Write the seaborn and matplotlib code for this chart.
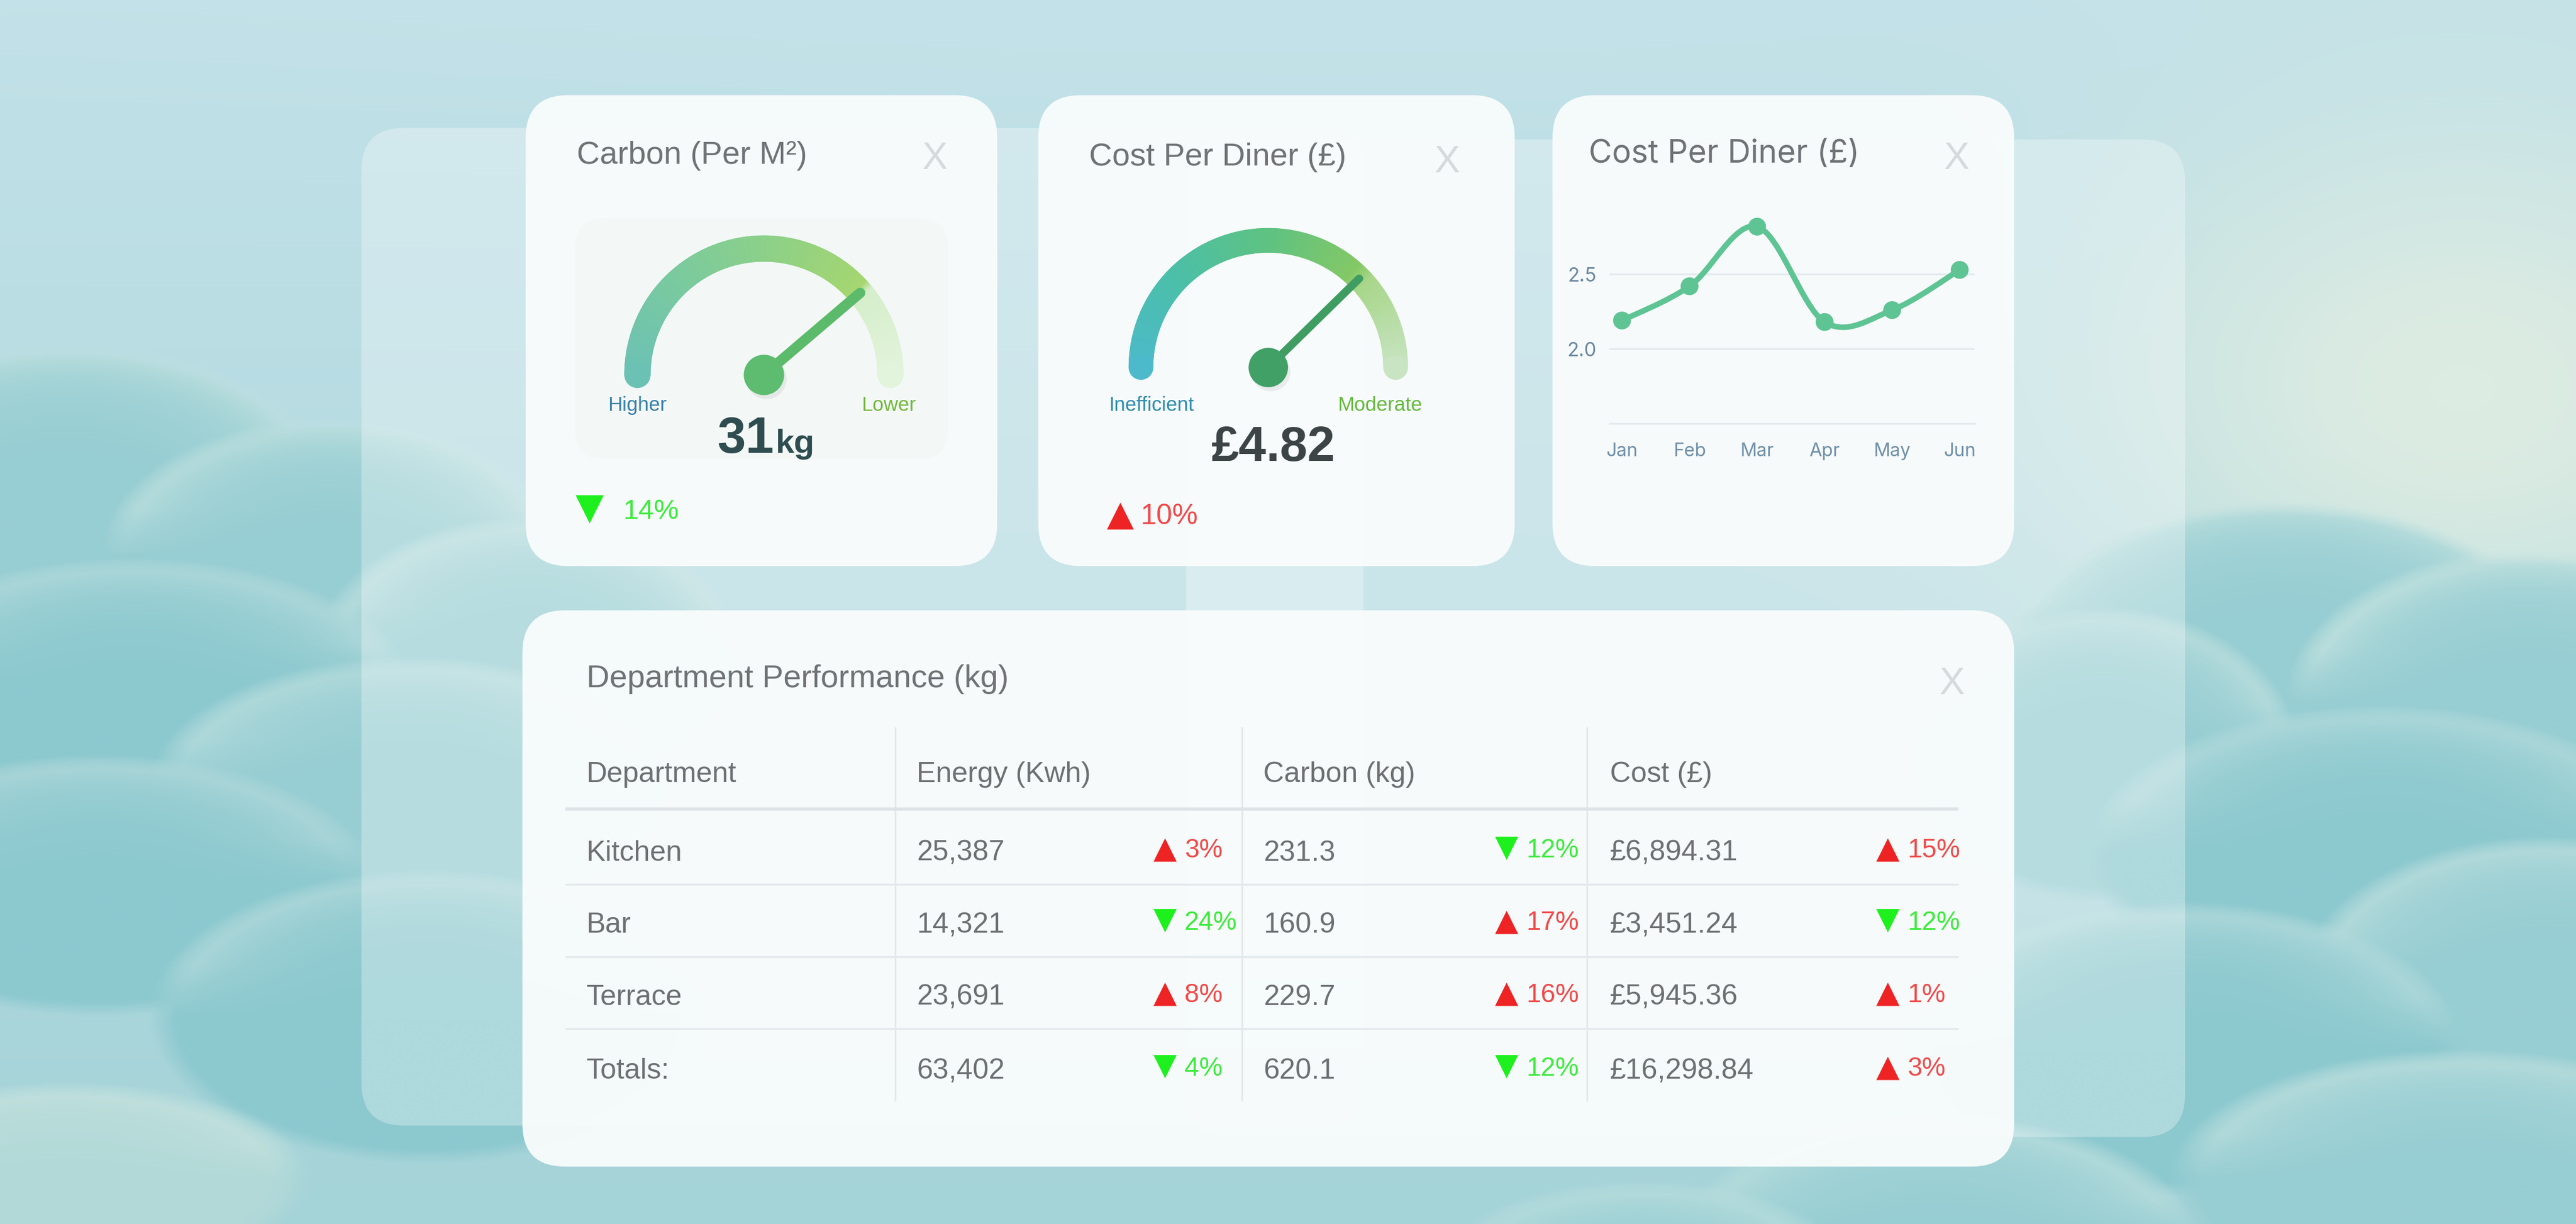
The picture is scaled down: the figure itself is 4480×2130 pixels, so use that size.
import numpy as np
import matplotlib
matplotlib.use("Agg")
import matplotlib.pyplot as plt
import seaborn as sns
from matplotlib.patches import FancyBboxPatch, Wedge, Circle, PathPatch
from matplotlib.path import Path
from matplotlib.colors import to_rgb

sns.set_theme(style="white")
plt.rcParams['font.family'] = ['Liberation Sans', 'DejaVu Sans']

# ---------------- data ----------------
carbon_value = 31
carbon_unit = "kg"
carbon_change = -14
carbon_gauge_max = 40
carbon_gauge_labels = ["Higher", "Lower"]

cost_value = 4.82
cost_change = 10
cost_gauge_max = 6.4
cost_gauge_labels = ["Inefficient", "Moderate"]

months = ["Jan", "Feb", "Mar", "Apr", "May", "Jun"]
cost_per_diner = [2.19, 2.42, 2.82, 2.18, 2.26, 2.53]
line_yticks = [2.0, 2.5]

table_columns = ["Department", "Energy (Kwh)", "Carbon (kg)", "Cost (£)"]
departments = ["Kitchen", "Bar", "Terrace", "Totals:"]
energy_kwh = [25387, 14321, 23691, 63402]
energy_change = [3, -24, 8, -4]
carbon_kg = [231.3, 160.9, 229.7, 620.1]
carbon_kg_change = [-12, 17, 16, -12]
cost_gbp = [6894.31, 3451.24, 5945.36, 16298.84]
cost_gbp_change = [15, -12, 1, 3]

# ---------------- figure ----------------
W_REF, H_REF = 1568, 746
fig = plt.figure(figsize=(44.8, 21.3), dpi=100)
ax = fig.add_axes([0, 0, 1, 1])
ax.set_xlim(0, W_REF)
ax.set_ylim(H_REF, 0)
ax.axis('off')

# ---------------- background sky with clouds ----------------
def rgb(h):
    return np.array(to_rgb(h))

gx = np.linspace(0, W_REF, 1176)
gy = np.linspace(0, H_REF, 560)
X, Y = np.meshgrid(gx, gy)
t = (Y / H_REF)[..., None]
img = rgb('#c2e1e8') * (1 - t) + rgb('#a4d3d8') * t

def glow(img, cx, cy, rx, ry, col, s):
    w = s * np.exp(-(((X - cx) / rx) ** 2 + ((Y - cy) / ry) ** 2))[..., None]
    return img * (1 - w) + rgb(col) * w

def puff(img, cx, cy, rx, ry, rim, body, rim_w=18, soft=9):
    rho = np.sqrt(((X - cx) / rx) ** 2 + ((Y - cy) / ry) ** 2)
    d = ry * (1 - rho)
    m = np.clip(d / soft, 0, 1)[..., None]
    top = np.clip((cy - Y) / (0.35 * ry), 0, 1)
    k = (np.exp(-np.clip(d, 0, None) / rim_w) * top)[..., None] * 0.85
    col = rgb(body) * (1 - k) + rgb(rim) * k
    return img * (1 - m) + col * m

img = glow(img, 1500, 240, 240, 170, '#e6f0e2', 0.8)
img = glow(img, 800, 0, 600, 80, '#c8e4ea', 0.3)

RIM, BODY, BODY2 = '#cde6e3', '#97ced3', '#8cc9cf'
puffs = [
    # left cloud bank (back to front)
    (40, 300, 160, 90, RIM, BODY),
    (200, 340, 140, 85, RIM, BODY),
    (320, 400, 130, 85, RIM, BODY),
    (80, 420, 170, 80, '#c4e2e1', BODY2),
    (250, 480, 160, 80, '#c4e2e1', BODY),
    (60, 540, 170, 80, '#c0dfdf', BODY2),
    (260, 620, 170, 90, '#c2e0e0', BODY2),
    (40, 720, 150, 60, '#cae5e0', '#b2d9d8'),
    # right cloud bank
    (1390, 400, 170, 95, RIM, BODY),
    (1540, 430, 150, 95, '#d8ebe4', BODY),
    (1280, 460, 120, 90, RIM, BODY),
    (1450, 520, 180, 90, '#c4e2e1', BODY2),
    (1550, 600, 150, 90, '#c8e3e1', BODY),
    (1330, 640, 170, 90, '#c4e2e1', BODY2),
    (1500, 720, 180, 80, '#cae4e1', BODY),
    (1180, 760, 160, 80, '#c8e4e2', BODY),
    (1000, 780, 130, 60, '#c8e4e2', BODY),
]
for p in puffs:
    img = puff(img, *p)
img = np.clip(img, 0, 1)
ax.imshow(img, extent=(0, W_REF, H_REF, 0), aspect='auto', interpolation='bicubic', zorder=0)

# ---------------- panels ----------------
def panel(x0, y0, x1, y1, fc, alpha, r=24, z=1):
    p = FancyBboxPatch((x0, y0), x1 - x0, y1 - y0,
                       boxstyle=f"round,pad=0,rounding_size={r}",
                       fc=fc, ec='none', alpha=alpha, zorder=z)
    ax.add_patch(p)

panel(220, 78, 830, 686, '#ffffff', 0.3, 26, 1)
panel(722, 85, 1330, 693, '#ffffff', 0.3, 26, 1)

cards = [(320, 58, 607, 345), (632, 58, 922, 345), (945, 58, 1226, 345), (318, 372, 1226, 711)]
for c in cards:
    panel(*c, '#f9fcfc', 0.95, 26, 2)
panel(350, 133, 577, 280, '#eef6f2', 0.35, 18, 3)

TITLE_C = '#6f7376'
X_C = '#d6dadc'
GREEN_T = '#1ef01e'
GREEN_TXT = '#3deb3d'
RED_T = '#ee2323'
RED_TXT = '#f04a4a'
DY = 2  # visual centring offset for text

def title(x, y, s, **kw):
    ax.text(x, y + DY, s, fontsize=40, color=TITLE_C, ha='left', va='center', zorder=6, **kw)

def close_x(x, y):
    ax.text(x, y + DY, "X", fontsize=48, color=X_C, ha='center', va='center', zorder=6)

title(351, 93, "Carbon (Per M²)")
title(663, 94, "Cost Per Diner (£)")
title(967, 92, "Cost Per Diner (£)", family=['Inter', 'DejaVu Sans'])
title(357, 412, "Department Performance (kg)")
for (x, y) in [(569, 95), (881, 97), (1191, 95), (1188, 415)]:
    close_x(x, y)

# ---------------- gauges ----------------
def interp_color(stops, p):
    pos = [s[0] for s in stops]
    cols = np.array([rgb(s[1]) for s in stops])
    return np.array([np.interp(p, pos, cols[:, k]) for k in range(3)])

def gauge(cx, cy, r, width, stops, frac, needle_col, needle_lw, dot_r, dot_col):
    n = 240
    for i in range(n):
        p0, p1 = i / n, (i + 1) / n
        a_hi = 180 * (1 - p0)
        a_lo = 180 * (1 - p1)
        col = interp_color(stops, (p0 + p1) / 2)
        ax.add_patch(Wedge((cx, cy), r + width / 2, -a_hi - 0.4, -a_lo + 0.4 if i < n - 1 else -a_lo,
                           width=width, fc=col, ec='none', zorder=4))
    ax.add_patch(Circle((cx - r, cy), width / 2, fc=interp_color(stops, 0), ec='none', zorder=4))
    ax.add_patch(Circle((cx + r, cy), width / 2, fc=interp_color(stops, 1), ec='none', zorder=4))
    ang = np.deg2rad(180 * (1 - frac))
    L = r
    ax.plot([cx, cx + L * np.cos(ang)], [cy, cy - L * np.sin(ang)], color=needle_col,
            lw=needle_lw, solid_capstyle='round', zorder=5)
    ax.add_patch(Circle((cx + 1.5, cy + 2.5), dot_r, fc='#000000', alpha=0.06, ec='none', zorder=5))
    ax.add_patch(Circle((cx, cy), dot_r, fc=dot_col, ec='none', zorder=5))

cf = carbon_value / carbon_gauge_max
gauge(465, 228.5, 77, 16,
      [(0, '#6cc1b5'), (0.3, '#7ccb9c'), (0.55, '#90d184'), (cf - 0.01, '#a5d670'),
       (cf + 0.01, '#d5eecb'), (1, '#e3f4dc')],
      cf, '#5cba6b', 13, 12.3, '#5dbc6f')

kf = cost_value / cost_gauge_max
gauge(772, 224, 77.5, 15,
      [(0, '#4cbacb'), (0.25, '#4bbfa8'), (0.5, '#5ec282'), (kf - 0.02, '#84c866'),
       (kf + 0.02, '#a8d68a'), (1, '#c8e4c2')],
      kf, '#3f9d62', 10, 12, '#40a066')

ax.text(388, 245 + DY, carbon_gauge_labels[0], fontsize=25, color='#3a80a6', ha='center', va='center', zorder=6)
ax.text(541, 245 + DY, carbon_gauge_labels[1], fontsize=25, color='#74b83c', ha='center', va='center', zorder=6)
ax.text(701, 245 + DY, cost_gauge_labels[0], fontsize=25, color='#2e8cae', ha='center', va='center', zorder=6)
ax.text(840, 245 + DY, cost_gauge_labels[1], fontsize=25, color='#66b83e', ha='center', va='center', zorder=6)

ax.text(471, 276, f"{carbon_value}", fontsize=64, fontweight='bold', color='#2f4d50',
        ha='right', va='baseline', zorder=6)
ax.text(472, 276, carbon_unit, fontsize=42, fontweight='bold', color='#2f4d50',
        ha='left', va='baseline', zorder=6)
ax.text(775, 281, f"£{cost_value:.2f}", fontsize=62, fontweight='bold', color='#3c4446',
        ha='center', va='baseline', zorder=6)

def change(x_tri, x_txt, y, v, tri_size, txt_size):
    up = v > 0
    ax.text(x_tri, y + (1 if up else 0), "▲" if up else "▼", fontsize=tri_size,
            color=RED_T if up else GREEN_T,
            ha='center', va='center', family=['DejaVu Sans'], zorder=6)
    ax.text(x_txt, y + DY, f"{abs(v)}%", fontsize=txt_size, color=RED_TXT if up else GREEN_TXT,
            ha='left', va='center', zorder=6)

change(359, 379, 310, carbon_change, 46, 35)
change(682, 694, 313, cost_change, 44, 36)

# ---------------- line chart ----------------
x0, x1, ytop, ybot = 979.5, 1201.9, 121.8, 258.0
lax = fig.add_axes([x0 / W_REF, 1 - ybot / H_REF, (x1 - x0) / W_REF, (ybot - ytop) / H_REF])
lax.set_facecolor('none')
xs = np.arange(len(months))
LINE_C = '#5ec493'
sns.scatterplot(x=xs, y=cost_per_diner, ax=lax, s=500, color=LINE_C, edgecolor='none', zorder=4)

# smooth curve (Catmull-Rom via cubic Bezier segments) through the data points
pts = np.column_stack([xs, cost_per_diner]).astype(float)
ext = np.vstack([pts[0], pts, pts[-1]])
verts = [tuple(pts[0])]
codes = [Path.MOVETO]
for i in range(1, len(ext) - 2):
    p0, p1, p2, p3 = ext[i - 1], ext[i], ext[i + 1], ext[i + 2]
    c1 = p1 + (p2 - p0) / 6
    c2 = p2 - (p3 - p1) / 6
    verts += [tuple(c1), tuple(c2), tuple(p2)]
    codes += [Path.CURVE4] * 3
lax.add_patch(PathPatch(Path(verts, codes), fc='none', ec=LINE_C, lw=7, zorder=3,
                        capstyle='round', joinstyle='round'))

lax.set_xlim(-0.19, 5.22)
lax.set_ylim(1.5, 3.0)
lax.set_yticks(line_yticks)
lax.set_yticklabels([f"{v:.1f}" for v in line_yticks])
lax.set_xticks(xs)
lax.set_xticklabels(months)
lax.grid(axis='y', color='#e1eaef', lw=2.2)
lax.grid(axis='x', visible=False)
for s in ['top', 'left', 'right']:
    lax.spines[s].set_visible(False)
lax.spines['bottom'].set_color('#e1eaef')
lax.spines['bottom'].set_linewidth(2.2)
lax.tick_params(axis='y', length=0, pad=16, labelsize=24, labelcolor='#6a88a0')
lax.tick_params(axis='x', length=0, pad=24, labelsize=23, labelcolor='#7090a8')
for lab in lax.get_xticklabels() + lax.get_yticklabels():
    lab.set_family(['Inter', 'DejaVu Sans'])
lax.set_xlabel("")
lax.set_ylabel("")

# ---------------- table ----------------
TXT_C = '#6d7073'
col_x = [357, 558, 769, 980]
vlines_x = [545, 756, 966]
hlines_y = [493, 539, 583, 627]
row_y = [518, 562, 606, 651]
header_y = 470

ax.vlines(vlines_x, 443, 671, color='#e3e7e9', lw=2, zorder=4)
ax.hlines(hlines_y[0], 344, 1192, color='#dde3e6', lw=4, zorder=4)
ax.hlines(hlines_y[1:], 344, 1192, color='#e4e9eb', lw=2.5, zorder=4)

for x, h in zip(col_x, table_columns):
    ax.text(x, header_y + DY, h, fontsize=36, color=TXT_C, ha='left', va='center', zorder=6)

tri_x = [709, 917, 1149]
for i, dep in enumerate(departments):
    y = row_y[i]
    ax.text(col_x[0], y + DY, dep, fontsize=36, color=TXT_C, ha='left', va='center', zorder=6)
    ax.text(col_x[1], y + DY, f"{energy_kwh[i]:,}", fontsize=36, color=TXT_C, ha='left', va='center', zorder=6)
    ax.text(col_x[2], y + DY, f"{carbon_kg[i]:.1f}", fontsize=36, color=TXT_C, ha='left', va='center', zorder=6)
    ax.text(col_x[3], y + DY, f"£{cost_gbp[i]:,.2f}", fontsize=36, color=TXT_C, ha='left', va='center', zorder=6)
    for tx, chg in zip(tri_x, [energy_change[i], carbon_kg_change[i], cost_gbp_change[i]]):
        change(tx, tx + 12, y - 1.5, chg, 38, 33)

fig.savefig("out.png", dpi=100)
